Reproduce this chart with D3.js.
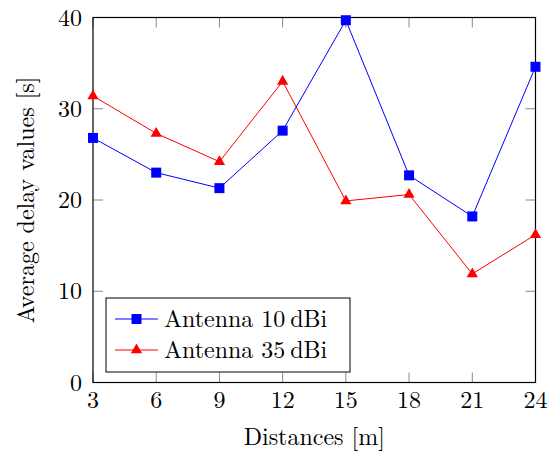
<!DOCTYPE html>
<html>
<head>
<meta charset="utf-8">
<script src="https://cdn.jsdelivr.net/npm/d3@7"></script>
<style>
  body { margin: 0; background: #fff; }
  text { font-family: "Latin Modern Roman", "DejaVu Serif", serif; fill: #000; }
</style>
</head>
<body>
<script>
const distances = [3, 6, 9, 12, 15, 18, 21, 24];
const antenna10 = [26.8, 23.0, 21.3, 27.6, 39.7, 22.7, 18.2, 34.6];
const antenna35 = [31.4, 27.3, 24.2, 33.0, 19.9, 20.6, 11.9, 16.2];
const yTicks = [0, 10, 20, 30, 40];
const seriesNames = ["Antenna 10\u2009dBi", "Antenna 35\u2009dBi"];

const svg = d3.select("body").append("svg")
  .attr("width", 555)
  .attr("height", 455);

const mLeft = 93, mRight = 535.5, mTop = 17.5, mBottom = 382.5;

const x = d3.scaleLinear().domain([3, 24]).range([mLeft, mRight]);
const y = d3.scaleLinear().domain([0, 40]).range([mBottom, mTop]);

const fs = 24;
const tl = 10;

// tick marks (inside, mirrored)
const ticks = svg.append("g").attr("stroke", "#888").attr("stroke-width", 1);
distances.forEach(d => {
  ticks.append("line").attr("x1", x(d)).attr("x2", x(d)).attr("y1", mBottom).attr("y2", mBottom - tl);
  ticks.append("line").attr("x1", x(d)).attr("x2", x(d)).attr("y1", mTop).attr("y2", mTop + tl);
});
yTicks.forEach(d => {
  ticks.append("line").attr("y1", y(d)).attr("y2", y(d)).attr("x1", mLeft).attr("x2", mLeft + tl);
  ticks.append("line").attr("y1", y(d)).attr("y2", y(d)).attr("x1", mRight).attr("x2", mRight - tl);
});

// frame
svg.append("rect")
  .attr("x", mLeft).attr("y", mTop)
  .attr("width", mRight - mLeft).attr("height", mBottom - mTop)
  .attr("fill", "none").attr("stroke", "#000").attr("stroke-width", 1.2);

// tick labels
svg.selectAll(".xlab").data(distances).enter().append("text")
  .attr("x", d => x(d)).attr("y", 408)
  .attr("font-size", fs).attr("text-anchor", "middle")
  .text(d => d);

svg.selectAll(".ylab").data(yTicks).enter().append("text")
  .attr("x", mLeft - 11).attr("y", d => y(d) + 8)
  .attr("font-size", fs).attr("text-anchor", "end")
  .text(d => d);

// axis titles
svg.append("text")
  .attr("x", (mLeft + mRight) / 2).attr("y", 445)
  .attr("font-size", fs).attr("text-anchor", "middle")
  .text("Distances [m]");

svg.append("text")
  .attr("transform", `translate(34, ${(mTop + mBottom) / 2}) rotate(-90)`)
  .attr("font-size", fs).attr("text-anchor", "middle")
  .text("Average delay values [s]");

// series
const line = d3.line().x((d, i) => x(distances[i])).y(d => y(d));
const square = d3.symbol().type(d3.symbolSquare).size(100);
const triangle = d3.symbol().type(d3.symbolTriangle).size(55);

function drawSeries(values, color, sym) {
  svg.append("path").datum(values)
    .attr("d", line).attr("fill", "none")
    .attr("stroke", color).attr("stroke-width", 1);
  svg.selectAll(null).data(values).enter().append("path")
    .attr("d", sym)
    .attr("transform", (d, i) => `translate(${x(distances[i])}, ${y(d)})`)
    .attr("fill", color);
}
drawSeries(antenna35, "#ff0000", triangle);
drawSeries(antenna10, "#0000ff", square);

// legend
const lg = svg.append("g");
lg.append("rect")
  .attr("x", 106).attr("y", 298).attr("width", 244).attr("height", 74)
  .attr("fill", "#fff").attr("stroke", "#000").attr("stroke-width", 1);
const legendItems = [
  { name: seriesNames[0], color: "#0000ff", sym: square, yy: 319 },
  { name: seriesNames[1], color: "#ff0000", sym: triangle, yy: 350 }
];
legendItems.forEach(it => {
  lg.append("line").attr("x1", 115).attr("x2", 158)
    .attr("y1", it.yy).attr("y2", it.yy)
    .attr("stroke", it.color).attr("stroke-width", 1);
  lg.append("path").attr("d", it.sym)
    .attr("transform", `translate(136.5, ${it.yy})`)
    .attr("fill", it.color);
  lg.append("text").attr("x", 164).attr("y", it.yy + 8)
    .attr("font-size", fs).text(it.name);
});
</script>
</body>
</html>
